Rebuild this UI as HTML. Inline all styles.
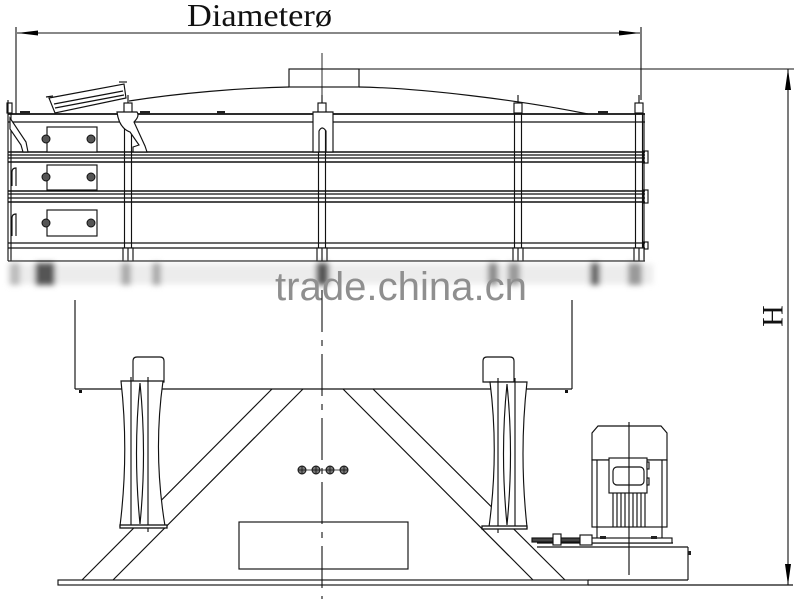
<!DOCTYPE html>
<html><head><meta charset="utf-8"><style>
html,body{margin:0;padding:0;background:#fff;}
svg{display:block;}
</style></head><body>
<svg width="800" height="599" viewBox="0 0 800 599" xmlns="http://www.w3.org/2000/svg">
<defs>
<filter id="b" x="-50%" y="-50%" width="200%" height="200%"><feGaussianBlur stdDeviation="3"/></filter>
<linearGradient id="fadeV" x1="0" y1="0" x2="0" y2="1"><stop offset="0" stop-color="#fff"/><stop offset="1" stop-color="#111"/></linearGradient>
</defs>

<!-- Diameter dimension -->
<text x="187" y="26" font-family="Liberation Serif, serif" font-size="32" fill="#111" textLength="145" lengthAdjust="spacingAndGlyphs">Diameterø</text>
<g stroke="#111" stroke-width="1.1" fill="none">
<line x1="17" y1="33" x2="640" y2="33"/>
<line x1="16" y1="27" x2="16" y2="114"/>
<line x1="641" y1="27" x2="641" y2="100"/>
<line x1="289" y1="69" x2="794" y2="69"/>
<line x1="788" y1="69" x2="788" y2="585"/>
</g>
<polygon points="17,33 38,30.5 38,35.5" fill="#000"/>
<polygon points="640,33 619,30.5 619,35.5" fill="#000"/>
<polygon points="788,69 785,90 791,90" fill="#000"/>
<polygon points="788,585 785,564 791,564" fill="#000"/>
<text x="0" y="0" transform="translate(773,316) rotate(-90)" font-family="Liberation Serif, serif" font-size="30" fill="#111" text-anchor="middle" dominant-baseline="central">H</text>

<!-- Top frame -->
<g stroke="#111" stroke-width="1.15" fill="none">
<rect x="289" y="69" width="70" height="18"/>
<line x1="322" y1="53" x2="322" y2="113" stroke-width="0.9"/>
<path d="M129,101 C180,93 240,88 289,87"/>
<path d="M359,87 C420,88 520,100 588,114"/>
<!-- feed inlet -->
<polygon points="49,98 124,84 126,98 55,113" fill="#fff"/>
<line x1="54" y1="104" x2="123" y2="91"/>
<line x1="55" y1="108" x2="124" y2="95"/>
<line x1="46" y1="97" x2="53" y2="96"/>
<line x1="119" y1="82" x2="127" y2="82"/>

<line x1="8" y1="114" x2="645" y2="114" stroke-width="1.8"/>
<line x1="8" y1="122" x2="645" y2="122"/>
<line x1="8" y1="152" x2="645" y2="152" stroke-width="1.4"/>
<line x1="8" y1="155" x2="645" y2="155"/>
<line x1="8" y1="158" x2="645" y2="158"/>
<line x1="8" y1="162" x2="645" y2="162" stroke-width="1.4"/>
<line x1="8" y1="191" x2="645" y2="191" stroke-width="1.4"/>
<line x1="8" y1="194" x2="645" y2="194"/>
<line x1="8" y1="198" x2="645" y2="198"/>
<line x1="8" y1="202" x2="645" y2="202" stroke-width="1.4"/>
<line x1="8" y1="243" x2="645" y2="243"/>
<line x1="8" y1="248" x2="645" y2="248"/>
<line x1="8" y1="261" x2="645" y2="261" stroke-width="1.3"/>
<line x1="8" y1="100" x2="8" y2="261"/>
<line x1="11" y1="114" x2="11" y2="261"/>
<line x1="644" y1="114" x2="644" y2="261"/>
<rect x="7" y="103" width="5" height="10"/>
<rect x="643" y="151" width="5" height="12"/>
<rect x="643" y="190" width="5" height="13"/>
<rect x="643" y="242" width="5" height="7"/>
<!-- small left arcs -->
<path d="M12,186 L12,172 Q12,168 16,168 L16,186"/>
<path d="M12,236 L12,218 Q12,214 16,214 L16,236"/>

<!-- panels -->
<rect x="47" y="127" width="50" height="25" fill="#fff"/>
<rect x="47" y="165" width="50" height="25" fill="#fff"/>
<rect x="47" y="210" width="50" height="26" fill="#fff"/>
</g>
<g fill="#555" stroke="#111" stroke-width="1">
<circle cx="46" cy="139" r="4"/><circle cx="91" cy="139" r="4"/>
<circle cx="46" cy="177" r="4"/><circle cx="91" cy="177" r="4"/>
<circle cx="46" cy="223" r="4"/><circle cx="91" cy="223" r="4"/>
</g>

<!-- posts -->
<g stroke="#111" stroke-width="1.15" fill="#fff">
<g>
<line x1="124.5" y1="113" x2="124.5" y2="248"/><line x1="131.5" y1="113" x2="131.5" y2="248"/>
<line x1="128" y1="95" x2="128" y2="103"/><rect x="124" y="103" width="8" height="10"/>
<rect x="123" y="248" width="10" height="13"/><line x1="128" y1="248" x2="128" y2="261"/>
</g>
<g>
<line x1="318.5" y1="113" x2="318.5" y2="248"/><line x1="325.5" y1="113" x2="325.5" y2="248"/>
<line x1="322" y1="95" x2="322" y2="103"/><rect x="318" y="103" width="8" height="10"/>
<rect x="317" y="248" width="10" height="13"/><line x1="322" y1="248" x2="322" y2="261"/>
</g>
<g>
<line x1="514.5" y1="113" x2="514.5" y2="248"/><line x1="521.5" y1="113" x2="521.5" y2="248"/>
<line x1="518" y1="95" x2="518" y2="103"/><rect x="514" y="103" width="8" height="10"/>
<rect x="513" y="248" width="10" height="13"/><line x1="518" y1="248" x2="518" y2="261"/>
</g>
<g>
<line x1="635.5" y1="113" x2="635.5" y2="248"/><line x1="642.5" y1="113" x2="642.5" y2="248"/>
<line x1="639" y1="95" x2="639" y2="103"/><rect x="635" y="103" width="8" height="10"/>
<rect x="634" y="248" width="10" height="13"/><line x1="639" y1="248" x2="639" y2="261"/>
</g>
<!-- clamps -->
<path d="M117,112 L137,112 Q140,116 134,122 L145,146 L147,152 L133,152 L133,147 L139,145 L130,132 Q119,128 117,112 Z"/>
<path d="M117,112 L137,112 Q140,116 134,122 L145,146 L147,152 L133,152 L133,147 L139,145 L130,132 Q119,128 117,112 Z" transform="translate(1036,0) scale(-1,1)"/>
<path d="M117,112 L137,112 Q140,116 134,122 L145,146 L147,152 L133,152 L133,147 L139,145 L130,132 Q119,128 117,112 Z" transform="translate(1259,0) scale(-1,1)"/>
<path d="M313,112 L333,112 L333,152 L326,152 L326,131 Q322,125 319,131 L319,152 L313,152 Z"/>
<path d="M10,118 L26,142 L28,152 L23,152 L21,145 L10,129 Z"/>
</g>
<g fill="#222">
<rect x="20" y="111" width="10" height="3"/>
<rect x="140" y="111" width="10" height="3"/>
<rect x="598" y="111" width="10" height="3"/>
<rect x="217" y="111" width="8" height="3"/>
</g>

<!-- blurred band -->
<g filter="url(#b)">
<rect x="8" y="264" width="645" height="20" fill="#ececec"/>
<rect x="10" y="263" width="10" height="22" fill="#bbb"/>
<rect x="35" y="263" width="20" height="22" fill="#555"/>
<rect x="121" y="263" width="10" height="22" fill="#aaa"/>
<rect x="152" y="263" width="9" height="22" fill="#aaa"/>
<rect x="316" y="263" width="13" height="22" fill="#555"/>
<rect x="488" y="263" width="10" height="22" fill="#888"/>
<rect x="508" y="263" width="12" height="22" fill="#999"/>
<rect x="590" y="263" width="10" height="22" fill="#666"/>
<rect x="628" y="263" width="14" height="22" fill="#999"/>
</g>
<text x="275" y="300" font-family="Liberation Sans, sans-serif" font-size="40" fill="#8f8f8f" textLength="252" lengthAdjust="spacingAndGlyphs">trade.china.cn</text>

<!-- lower structure -->
<g stroke="#111" stroke-width="1.15" fill="none">
<line x1="75" y1="288" x2="75" y2="300" stroke="url(#fadeV)"/>
<line x1="572" y1="288" x2="572" y2="300" stroke="url(#fadeV)"/>
<line x1="75" y1="300" x2="75" y2="389"/>
<line x1="572" y1="300" x2="572" y2="389"/>
<line x1="75" y1="389" x2="572" y2="389"/>
<!-- triangle -->
<line x1="272" y1="389" x2="82" y2="580"/>
<line x1="303" y1="389" x2="113" y2="580"/>
<line x1="343" y1="389" x2="533" y2="580"/>
<line x1="373" y1="389" x2="565" y2="580"/>
<!-- base plate -->
<rect x="58" y="580" width="530" height="5"/>
<line x1="588" y1="585" x2="793" y2="585"/>
<!-- middle rect -->
<rect x="239" y="522" width="169" height="47"/>
</g>
<g fill="#111">
<rect x="79" y="390" width="3" height="3"/>
<rect x="565" y="390" width="3" height="3"/>
</g>

<!-- springs -->
<g stroke="#111" stroke-width="1.15" fill="#fff">
<path d="M133,382 L133,361 Q133,357 137,357 L160,357 Q164,357 164,361 L164,382 Z"/>
<path d="M121,381 L163,381 Q153,453 165,526 L120,526 Q129,453 121,381 Z"/>
<line x1="131" y1="377" x2="131" y2="526"/>
<line x1="148" y1="377" x2="148" y2="532"/>
<path d="M140,383 Q133,453 140,524 Q147,453 140,383 Z" fill="none"/>
<rect x="120" y="525" width="47" height="3" stroke-width="1.3"/>

<path d="M483,382 L483,361 Q483,357 487,357 L510,357 Q514,357 514,361 L514,382 Z"/>
<path d="M490,382 L527,382 Q519,453 527,527 L489,527 Q499,453 490,382 Z"/>
<line x1="498" y1="378" x2="498" y2="533"/>
<line x1="515" y1="378" x2="515" y2="527"/>
<path d="M507,384 Q500,453 507,525 Q514,453 507,384 Z" fill="none"/>
<rect x="482" y="526" width="45" height="3" stroke-width="1.3"/>
</g>

<!-- center line -->
<line x1="322" y1="290" x2="322" y2="599" stroke="#111" stroke-width="1.1" stroke-dasharray="42,8,6,8"/>
<!-- bolts -->
<g stroke="#111" stroke-width="1" fill="#777">
<circle cx="302" cy="470" r="4"/><circle cx="316" cy="470" r="4"/><circle cx="330" cy="470" r="4"/><circle cx="344" cy="470" r="4"/>
</g>
<g stroke="#111" stroke-width="0.8">
<line x1="298" y1="470" x2="348" y2="470"/>
<line x1="302" y1="466" x2="302" y2="474"/><line x1="316" y1="466" x2="316" y2="474"/><line x1="330" y1="466" x2="330" y2="474"/><line x1="344" y1="466" x2="344" y2="474"/>
</g>

<!-- motor -->
<g stroke="#111" stroke-width="1.15" fill="#fff">
<line x1="537" y1="547" x2="688" y2="547"/>
<line x1="688" y1="547" x2="688" y2="580"/>
<line x1="588" y1="580" x2="688" y2="580"/>
<line x1="537" y1="543" x2="673" y2="543"/>
<rect x="580" y="538" width="92" height="5"/>
<rect x="532" y="538" width="50" height="4" fill="#444"/>
<rect x="553" y="534" width="8" height="11"/>
<rect x="580" y="535" width="12" height="10"/>
<path d="M592,460 L592,433 L598,426 L661,426 L667,433 L667,460 Z"/>
<rect x="592" y="460" width="75" height="67"/>
<line x1="597" y1="460" x2="597" y2="538"/>
<line x1="662" y1="460" x2="662" y2="538"/>
<rect x="609" y="458" width="38" height="35"/>
<rect x="613" y="467" width="31" height="18" rx="4"/>
<rect x="647" y="462" width="2" height="7"/>
<rect x="647" y="478" width="2" height="7"/>
<line x1="613" y1="493" x2="613" y2="527"/><line x1="617" y1="493" x2="617" y2="527"/><line x1="621" y1="493" x2="621" y2="527"/><line x1="625" y1="493" x2="625" y2="527"/><line x1="633" y1="493" x2="633" y2="527"/><line x1="637" y1="493" x2="637" y2="527"/><line x1="641" y1="493" x2="641" y2="527"/><line x1="645" y1="493" x2="645" y2="527"/>
<line x1="629" y1="422" x2="629" y2="575"/>
</g>
<g fill="#222">
<rect x="600" y="536" width="6" height="3"/>
<rect x="651" y="536" width="6" height="3"/>
<rect x="688" y="551" width="3" height="4"/>
</g>
</svg>
</body></html>
